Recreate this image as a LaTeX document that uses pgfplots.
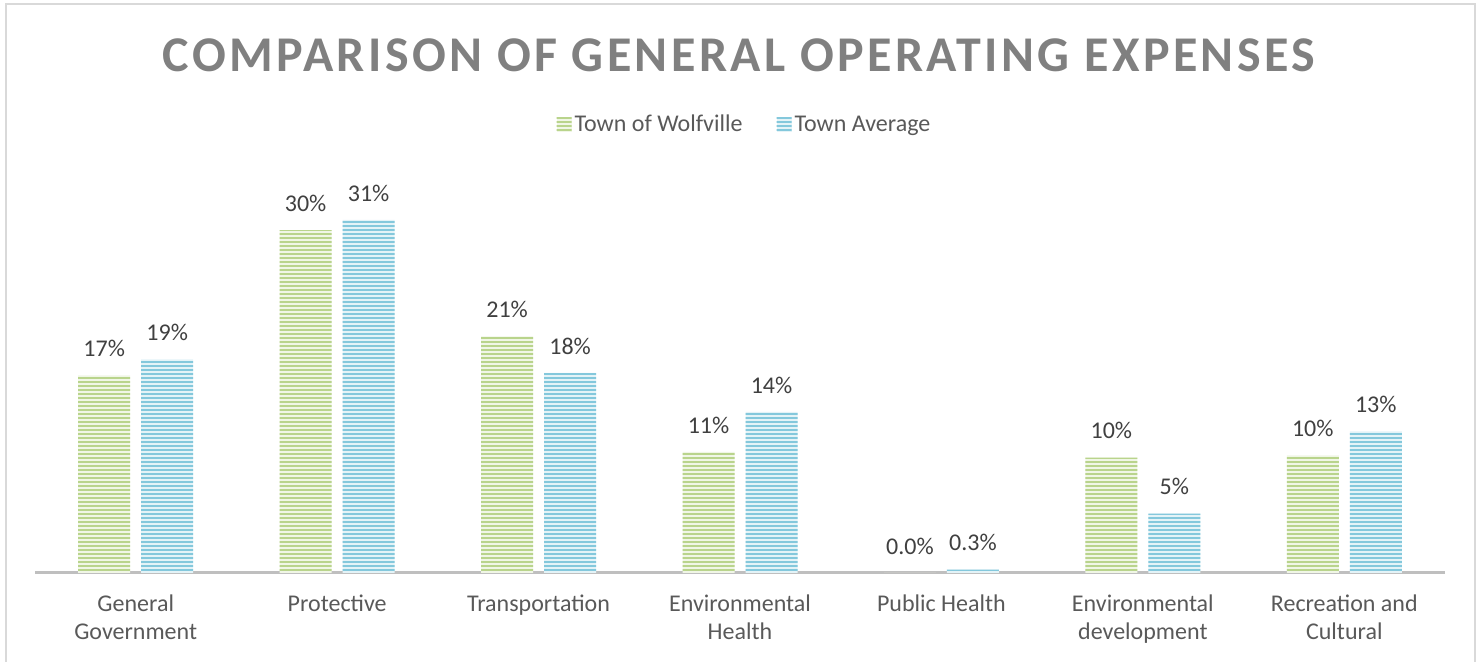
\documentclass[border=0pt]{standalone}
\usepackage{fontspec}
\setmainfont{Carlito}
\usepackage{pgfplots}
\pgfplotsset{compat=1.18}
\usetikzlibrary{patterns.meta}
\definecolor{wgreen}{RGB}{185,212,140}
\definecolor{wblue}{RGB}{132,200,220}
\definecolor{txt}{RGB}{89,89,89}
\definecolor{lbl}{RGB}{64,64,64}
\definecolor{ttl}{RGB}{128,128,128}
\definecolor{axisgray}{RGB}{191,191,191}
\definecolor{bordergray}{RGB}{217,217,217}
\begin{document}
\begin{tikzpicture}
\path[use as bounding box] (0,0) rectangle (740.5pt,331pt);
\draw[bordergray, line width=1pt] (3pt,-5pt) rectangle (737.5pt,329pt);
\node[ttl, font=\fontsize{25}{30}\selectfont\bfseries\addfontfeature{LetterSpace=6.8}] at (369.5pt,303.5pt) {COMPARISON OF GENERAL OPERATING EXPENSES};
\begin{axis}[
  at={(17.5pt,44.5pt)}, anchor=south west,
  scale only axis, width=705pt, height=194.3pt,
  xmin=-0.5, xmax=6.5, ymin=0, ymax=34,
  ybar=5.5pt, bar width=26pt,
  axis x line*=bottom, axis y line=none,
  x axis line style={draw=axisgray, line width=1.5pt, -},
  xtick={0,...,6}, xtick style={draw=none},
  xticklabels={General\\Government, Protective, Transportation, Environmental\\Health, Public Health, Environmental\\development, Recreation and\\Cultural},
  xticklabel style={align=center, font=\fontsize{12}{14}\selectfont, text=txt, yshift=-3pt},
  ytick=\empty,
  point meta=explicit symbolic,
  nodes near coords,
  nodes near coords style={anchor=south, inner sep=0pt, yshift=9pt, font=\fontsize{12}{14}\selectfont, text=lbl},
  legend style={at={(axis description cs:0.5035,1.153)}, anchor=center, draw=none, legend columns=2, font=\fontsize{12}{14}\selectfont, text=txt, nodes={inner xsep=1.5pt}, /tikz/every even column/.append style={column sep=15.5pt}},
  legend image code/.code={\fill[#1] (0pt,-3.75pt) rectangle (7.5pt,3.75pt);},
]
\addplot[draw=none, fill=wgreen!22, postaction={pattern={Lines[angle=0,distance=2pt,line width=1pt]}, pattern color=wgreen}] coordinates {
 (0,17.3) [17\%] (1,30.0) [30\%] (2,20.7) [21\%] (3,10.6) [11\%] (4,0.0) [0.0\%] (5,10.1) [10\%] (6,10.3) [10\%]
};
\addplot[draw=none, fill=wblue!22, postaction={pattern={Lines[angle=0,distance=2pt,line width=1pt]}, pattern color=wblue}] coordinates {
 (0,18.7) [19\%] (1,30.9) [31\%] (2,17.5) [18\%] (3,14.1) [14\%] (4,0.3) [0.3\%] (5,5.2) [5\%] (6,12.4) [13\%]
};
\legend{Town of Wolfville, Town Average}
\end{axis}
\end{tikzpicture}
\end{document}
